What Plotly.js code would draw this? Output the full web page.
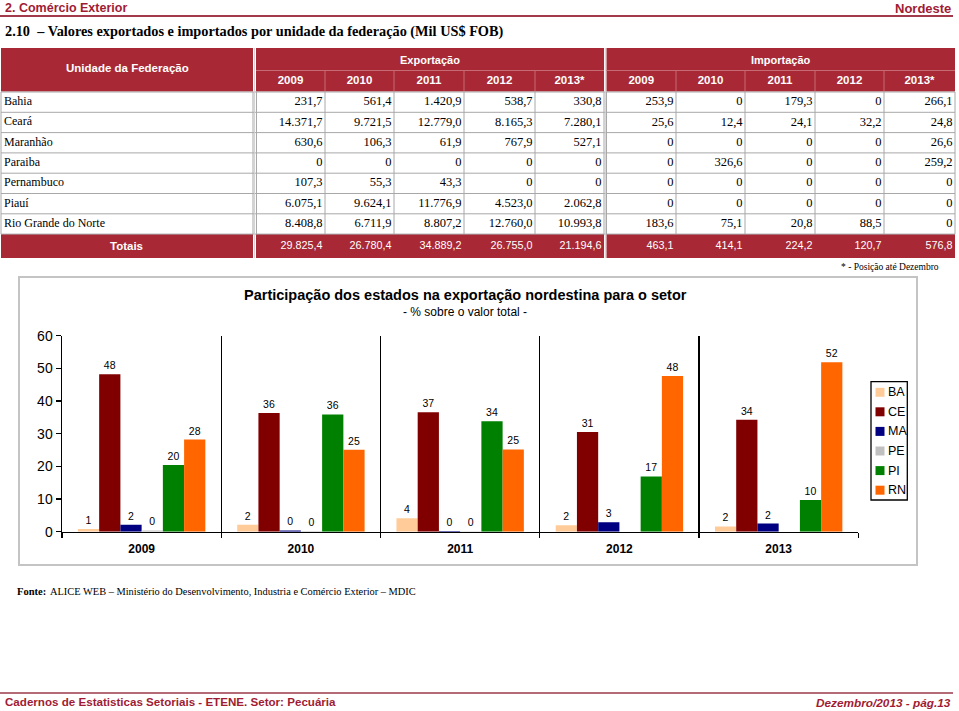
<!DOCTYPE html>
<html><head><meta charset="utf-8">
<script src="https://cdn.plot.ly/plotly-3.0.1.min.js"></script>
<style>html,body{margin:0;padding:0;background:#fff;overflow:hidden}#chart{width:959px;height:711px}</style>
</head><body><div id="chart"></div>
<script>
// ---------- table data (Mil US$ FOB) ----------
const states = ["Bahia","Ceará","Maranhão","Paraiba","Pernambuco","Piauí","Rio Grande do Norte"];
const yearHeaders = ["2009","2010","2011","2012","2013*"];
const exp2009 = [231.7,14371.7,630.6,0,107.3,6075.1,8408.8];
const exp2010 = [561.4,9721.5,106.3,0,55.3,9624.1,6711.9];
const exp2011 = [1420.9,12779.0,61.9,0,43.3,11776.9,8807.2];
const exp2012 = [538.7,8165.3,767.9,0,0,4523.0,12760.0];
const exp2013 = [330.8,7280.1,527.1,0,0,2062.8,10993.8];
const imp2009 = [253.9,25.6,0,0,0,0,183.6];
const imp2010 = [0,12.4,0,326.6,0,0,75.1];
const imp2011 = [179.3,24.1,0,0,0,0,20.8];
const imp2012 = [0,32.2,0,0,0,0,88.5];
const imp2013 = [266.1,24.8,26.6,259.2,0,0,0];
const totExp = [29825.4,26780.4,34889.2,26755.0,21194.6];
const totImp = [463.1,414.1,224.2,120.7,576.8];

// ---------- chart data (% share of total exports) ----------
const chartYears = ["2009","2010","2011","2012","2013"];
const seriesNames = ["BA","CE","MA","PE","PI","RN"];
const shareBA = [0.8,2.1,4.1,2.0,1.6];
const shareCE = [48.2,36.3,36.6,30.5,34.3];
const shareMA = [2.1,0.4,0.2,2.9,2.5];
const sharePE = [0.4,0.2,0.1,0,0];
const sharePI = [20.4,35.9,33.8,16.9,9.7];
const shareRN = [28.2,25.1,25.2,47.7,51.9];
const labelBA = ["1","2","4","2","2"];
const labelCE = ["48","36","37","31","34"];
const labelMA = ["2","0","0","3","2"];
const labelPE = ["0","0","0","",""];
const labelPI = ["20","36","34","17","10"];
const labelRN = ["28","25","25","48","52"];

// ---------- styling ----------
const SERIF = "'Liberation Serif','Times New Roman',serif";
const SANS = "'Liberation Sans',Arial,sans-serif";
const NARROW = "'Liberation Sans Narrow','Arial Narrow','Liberation Sans',Arial,sans-serif";
const DARK = "#A01C34";
const HEAD = "#A82935";
const HEADLINE = "#C66A74";
const GRID = "#A8A8A8";
const seriesColors = ["#FFCC99","#800000","#000080","#C0C0C0","#008000","#FF6600"];

function fmt(v){
  if(v===0) return "0";
  const p = v.toFixed(1).split(".");
  return p[0].replace(/\B(?=(\d{3})+(?!\d))/g,".")+","+p[1];
}

// page geometry (pixel layout, in the page axis x2/y2)
const colL = [256,325,394,464,535,606.5,676,745,815,884];
const colR = [325,394,464,535,604,676,745,815,884,955];
const rowTop = 92, rowH = 20.3, totTop = 234.1, totBot = 258;

const traces = [];
// ---------- bars ----------
const shares = [shareBA,shareCE,shareMA,sharePE,sharePI,shareRN];
const labels = [labelBA,labelCE,labelMA,labelPE,labelPI,labelRN];
seriesNames.forEach((n,i)=>{
  traces.push({type:'bar', name:n, x:chartYears, y:shares[i], text:labels[i],
    textposition:'outside', textfont:{family:SANS,size:10.5,color:'#000'},
    constraintext:'none', cliponaxis:false,
    marker:{color:seriesColors[i], line:{width:0}}, hoverinfo:'x+y+name', xaxis:'x', yaxis:'y'});
});

// ---------- table cells ----------
const dataCols = [exp2009,exp2010,exp2011,exp2012,exp2013,imp2009,imp2010,imp2011,imp2012,imp2013];
const cx=[],cy=[],ct=[];
dataCols.forEach((col,c)=>col.forEach((v,r)=>{cx.push(colR[c]-2.5);cy.push(rowTop+rowH*(r+0.5));ct.push(fmt(v));}));
traces.push({type:'scatter',mode:'text',x:cx,y:cy,text:ct,textposition:'middle left',
  textfont:{family:SERIF,size:12.5,color:'#000'},xaxis:'x2',yaxis:'y2',hoverinfo:'skip',showlegend:false,cliponaxis:false});
traces.push({type:'scatter',mode:'text',x:states.map(()=>4),y:states.map((s,r)=>rowTop+rowH*(r+0.5)),text:states,
  textposition:'middle right',textfont:{family:SERIF,size:12,color:'#000'},xaxis:'x2',yaxis:'y2',hoverinfo:'skip',showlegend:false,cliponaxis:false});
const totals = totExp.concat(totImp);
traces.push({type:'scatter',mode:'text',x:totals.map((v,c)=>colR[c]-2.5),y:totals.map(()=>(totTop+totBot)/2),
  text:totals.map(fmt),textposition:'middle left',textfont:{family:NARROW,size:10.8,color:'#fff'},
  xaxis:'x2',yaxis:'y2',hoverinfo:'skip',showlegend:false,cliponaxis:false});
const hdrYears = yearHeaders.concat(yearHeaders);
traces.push({type:'scatter',mode:'text',x:hdrYears.map((t,c)=>(colL[c]+colR[c])/2),y:hdrYears.map(()=>81),
  text:hdrYears,textposition:'middle center',textfont:{family:NARROW,size:11.5,color:'#fff',weight:'bold'},
  xaxis:'x2',yaxis:'y2',hoverinfo:'skip',showlegend:false,cliponaxis:false});

// ---------- shapes ----------
const S = [];
function line(x0,y0,x1,y1,color,w,layer){S.push({type:'line',xref:'x2',yref:'y2',x0,y0,x1,y1,line:{color,width:w},layer:layer||'below'});}
function rect(x0,y0,x1,y1,fill,lc,lw,layer){S.push({type:'rect',xref:'x2',yref:'y2',x0,y0,x1,y1,fillcolor:fill,line:{color:lc||'rgba(0,0,0,0)',width:lw||0},layer:layer||'below'});}
line(0,16,953,16,"#A33A4B",2.2);
// header blocks
rect(1,48,253,91.5,HEAD); rect(256,48,604,91.5,HEAD); rect(606.5,48,955,91.5,HEAD);
line(256,70.5,604,70.5,HEADLINE,1); line(606.5,70.5,955,70.5,HEADLINE,1);
[325,394,464,535,676,745,815,884].forEach(x=>{line(x,70.5,x,91.5,HEADLINE,1); line(x,totTop,x,totBot,HEADLINE,1);});
// totals row
rect(1,totTop,253,totBot,HEAD); rect(256,totTop,604,totBot,HEAD); rect(606.5,totTop,955,totBot,HEAD);
// body grid
for(let k=0;k<=states.length;k++){ line(1,rowTop+rowH*k,955,rowTop+rowH*k,GRID,1); }
[1,325,394,464,535,676,745,815,884,955].forEach(x=>line(x,rowTop,x,totTop,GRID,1));
[253,256.5,604,606.5].forEach(x=>line(x,rowTop,x,totTop,GRID,1));
line(254.6,48,254.6,totBot,"#D0D0D0",1); line(605.3,48,605.3,totBot,"#D0D0D0",1);
// chart frame
rect(19,277,917,565,'rgba(0,0,0,0)',"#C4C4C4",2);
// legend box + swatches
rect(871,381.7,907.3,500,'rgba(0,0,0,0)',"#000",1.3);
const legY = [392.3,411.8,431.4,451,470.6,490.2];
seriesNames.forEach((n,i)=>rect(875.5,legY[i]-4.5,884.5,legY[i]+4.5,seriesColors[i]));
// footer line
line(0,693,953,693,"#B56A77",2.2);

// ---------- annotations ----------
const A = [];
function txt(x,y,text,font,xanchor){A.push({xref:'x2',yref:'y2',x,y,text,showarrow:false,xanchor:xanchor||'left',yanchor:'middle',font});}
txt(3,8,"<b>2. Comércio Exterior</b>",{family:SANS,size:12.5,color:DARK});
txt(953,8,"<b>Nordeste</b>",{family:SANS,size:13,color:DARK},'right');
txt(3,31.5,"<b>2.10  – Valores exportados e importados por unidade da federação (Mil US$ FOB)</b>",{family:SERIF,size:14.3,color:'#000'});
txt(127,67.5,"<b>Unidade da Federação</b>",{family:NARROW,size:11.5,color:'#fff'},'center');
txt(430,59.5,"<b>Exportação</b>",{family:NARROW,size:11,color:'#fff'},'center');
txt(780.5,59.5,"<b>Importação</b>",{family:NARROW,size:11,color:'#fff'},'center');
txt(126,246,"<b>Totais</b>",{family:NARROW,size:11.5,color:'#fff'},'center');
txt(941,267,"* - Posição até Dezembro",{family:SERIF,size:9.5,color:'#000'},'right');
txt(465,294.5,"<b>Participação dos estados na exportação nordestina para o setor</b>",{family:SANS,size:14.5,color:'#000'},'center');
txt(465,311.5,"- % sobre o valor total -",{family:SANS,size:12,color:'#000'},'center');
seriesNames.forEach((n,i)=>txt(885.5,legY[i],n,{family:SANS,size:12.5,color:'#000'}));
txt(15,591,"<b>Fonte:</b>",{family:SERIF,size:10.5,color:'#000'});
txt(48,591,"ALICE WEB – Ministério do Desenvolvimento, Industria e Comércio Exterior – MDIC",{family:SERIF,size:10.4,color:'#000'});
txt(3,701.5,"<b>Cadernos de Estatisticas Setoriais - ETENE. Setor: Pecuária</b>",{family:SANS,size:11.6,color:DARK});
txt(953,703,"<b><i>Dezembro/2013 - pág.13</i></b>",{family:SANS,size:11.8,color:DARK},'right');

const layout = {
  width:959,height:711,margin:{l:0,r:0,t:0,b:0,pad:0},
  paper_bgcolor:'#fff',plot_bgcolor:'rgba(0,0,0,0)',showlegend:false,
  barmode:'group',bargap:0.2,bargroupgap:0,
  font:{family:SANS,color:'#000'},
  xaxis:{domain:[62/959,858.3/959],anchor:'y',type:'category',tickson:'boundaries',ticks:'outside',ticklen:5,
    tickcolor:'#000',tickwidth:1.3,showline:true,linecolor:'#000',linewidth:1.5,showgrid:true,gridcolor:'#000',gridwidth:1.3,
    tickfont:{family:SANS,size:12,color:'#000',weight:'bold'},ticklabelstandoff:5,fixedrange:true,zeroline:false},
  yaxis:{domain:[1-531.7/711,1-335.7/711],anchor:'x',range:[0,60],dtick:10,ticks:'outside',ticklen:5,tickcolor:'#000',tickwidth:1.3,
    showline:true,linecolor:'#000',linewidth:1.5,showgrid:false,zeroline:false,
    tickfont:{family:SANS,size:14,color:'#000'},fixedrange:true},
  xaxis2:{domain:[0,1],range:[0,959],visible:false,anchor:'y2',fixedrange:true},
  yaxis2:{domain:[0,1],range:[711,0],visible:false,anchor:'x2',fixedrange:true},
  shapes:S,annotations:A
};
Plotly.newPlot('chart',traces,layout,{displayModeBar:false,staticPlot:true});
</script></body></html>
